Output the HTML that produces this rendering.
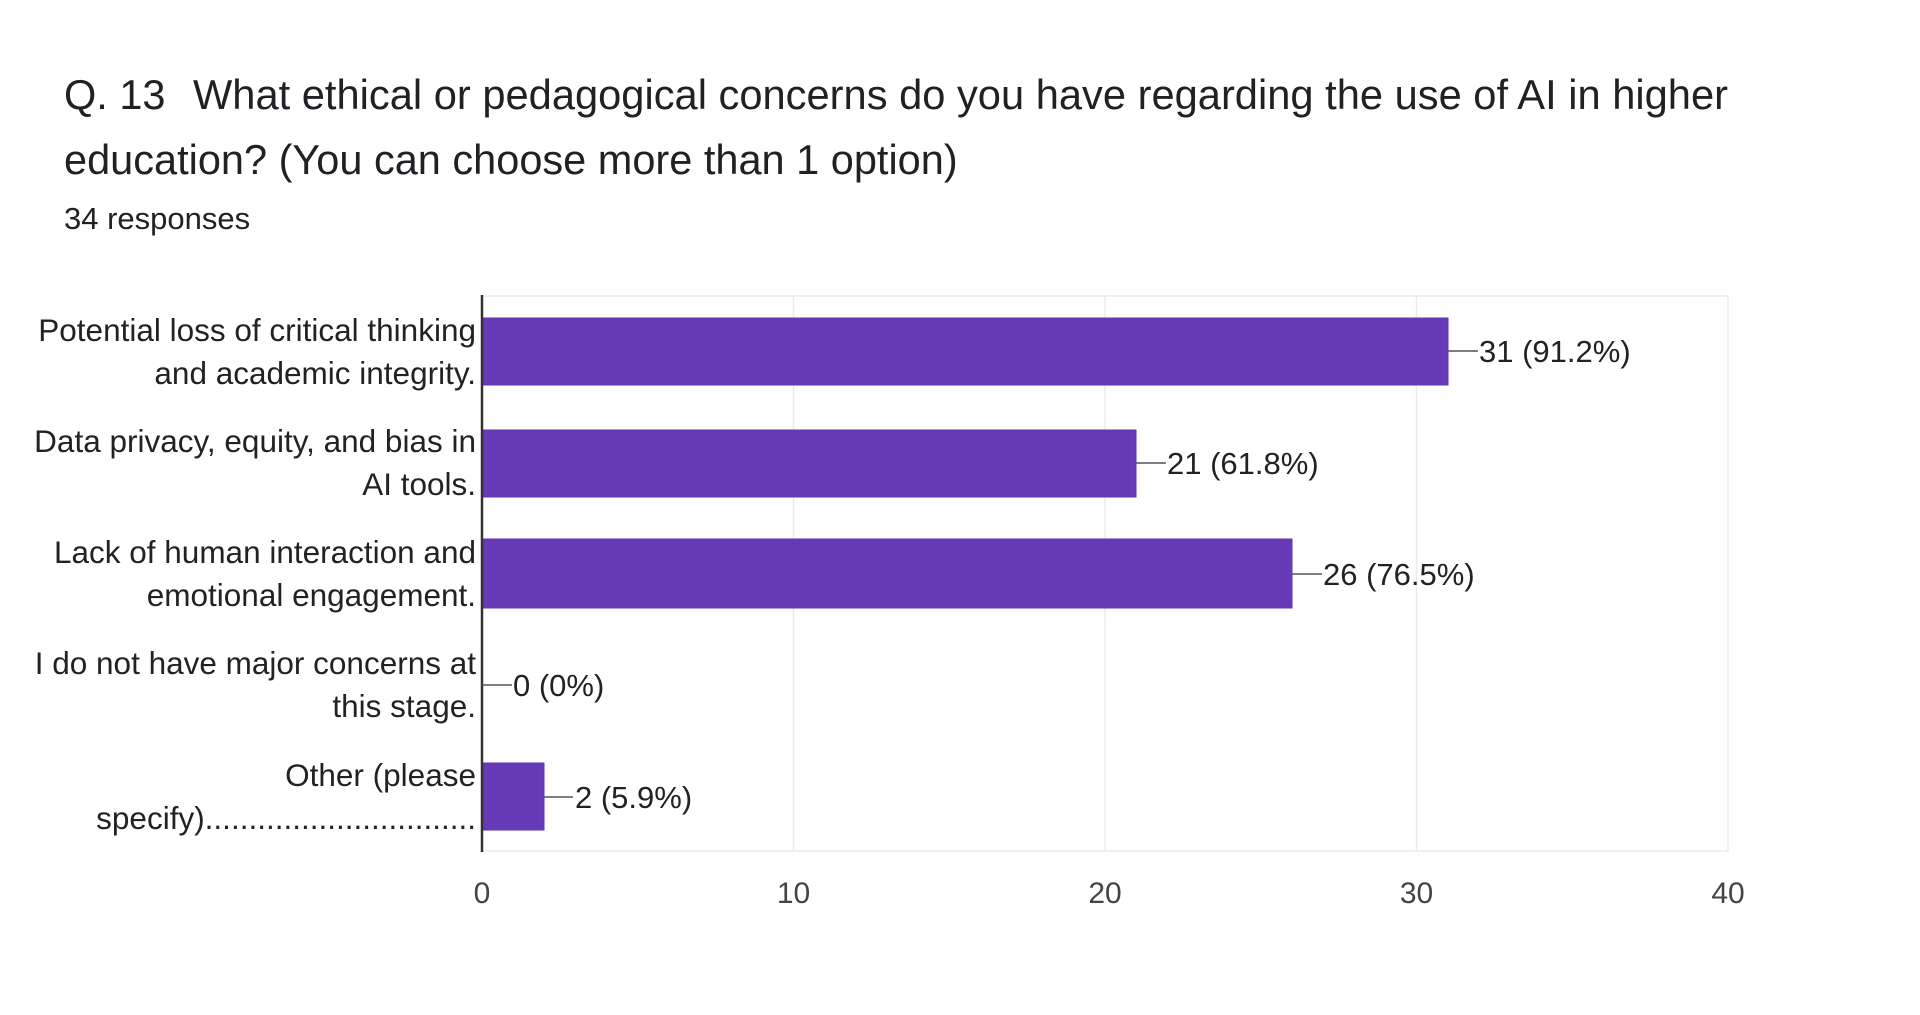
<!DOCTYPE html>
<html><head><meta charset="utf-8"><style>
body{margin:0;background:#fff;width:1920px;height:1015px;overflow:hidden}
svg{display:block;font-family:"Liberation Sans",Arial,sans-serif}
</style></head><body>
<svg width="1920" height="1015" viewBox="0 0 1920 1015">
<text x="64" y="109" font-size="41.5" fill="#202124">Q. 13</text>
<text x="193" y="109" font-size="41.5" fill="#202124" textLength="1535" lengthAdjust="spacingAndGlyphs">What ethical or pedagogical concerns do you have regarding the use of AI in higher</text>
<text x="64" y="174" font-size="41.5" fill="#202124">education? (You can choose more than 1 option)</text>
<text x="64" y="229" font-size="31" fill="#202124">34 responses</text>
<g stroke="#ebebeb" stroke-width="1.5">
<line x1="793.5" y1="296" x2="793.5" y2="851"/><line x1="1105" y1="296" x2="1105" y2="851"/>
<line x1="1416.5" y1="296" x2="1416.5" y2="851"/><line x1="1728" y1="296" x2="1728" y2="851"/>
<line x1="482" y1="296" x2="1728" y2="296"/><line x1="482" y1="851" x2="1728" y2="851"/>
</g>
<g fill="#673ab7" stroke="#5e35b1" stroke-width="1">
<rect x="482" y="318" width="966" height="67"/>
<rect x="482" y="430" width="654" height="67"/>
<rect x="482" y="539" width="810" height="69"/>
<rect x="482" y="763" width="62" height="67"/>
</g>
<line x1="482" y1="295" x2="482" y2="852" stroke="#333" stroke-width="2.5"/>
<g stroke="#555" stroke-width="1.5">
<line x1="1448" y1="351" x2="1478" y2="351"/>
<line x1="1136" y1="463" x2="1166" y2="463"/>
<line x1="1292" y1="574" x2="1322" y2="574"/>
<line x1="482" y1="685" x2="512" y2="685"/>
<line x1="544" y1="797" x2="573" y2="797"/>
</g>
<g font-size="31" fill="#222">
<text x="1479" y="362">31 (91.2%)</text>
<text x="1167" y="474">21 (61.8%)</text>
<text x="1323" y="585">26 (76.5%)</text>
<text x="513" y="696">0 (0%)</text>
<text x="575" y="808">2 (5.9%)</text>
</g>
<g font-size="31.5" fill="#222" text-anchor="end">
<text x="476" y="341">Potential loss of critical thinking</text>
<text x="476" y="384">and academic integrity.</text>
<text x="476" y="452">Data privacy, equity, and bias in</text>
<text x="476" y="495">AI tools.</text>
<text x="476" y="563">Lack of human interaction and</text>
<text x="476" y="606">emotional engagement.</text>
<text x="476" y="674">I do not have major concerns at</text>
<text x="476" y="717">this stage.</text>
<text x="476" y="786">Other (please</text>
<text x="476" y="829">specify)...............................</text>
</g>
<g font-size="30" fill="#444" text-anchor="middle">
<text x="482" y="903">0</text><text x="793.5" y="903">10</text><text x="1105" y="903">20</text>
<text x="1416.5" y="903">30</text><text x="1728" y="903">40</text>
</g>
</svg>
</body></html>
